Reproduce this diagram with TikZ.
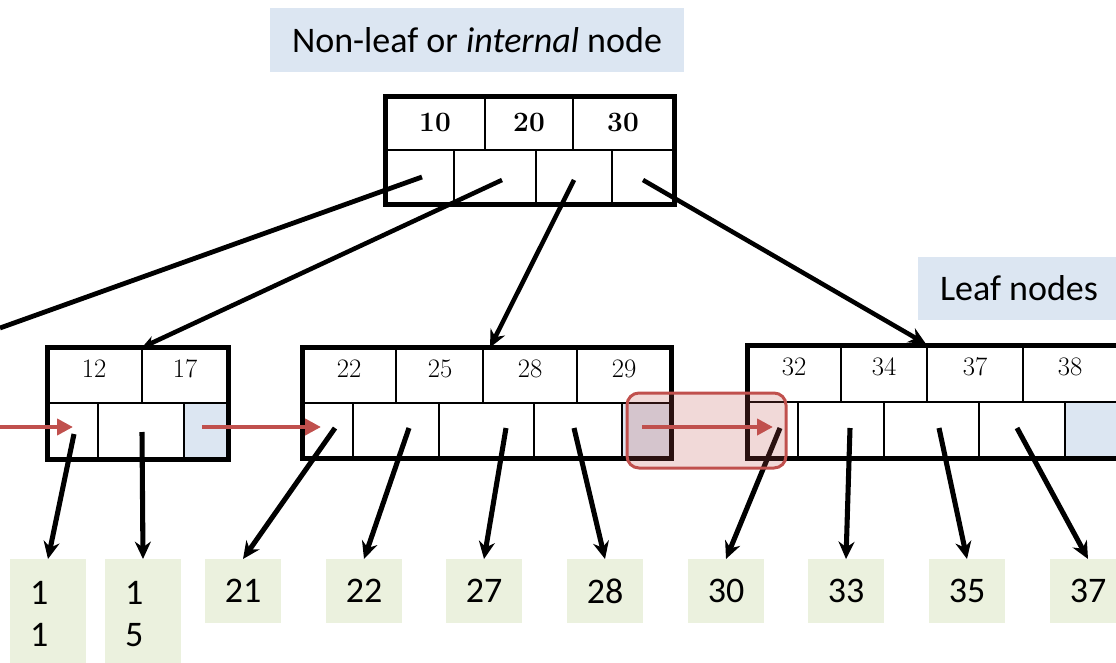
\documentclass[tikz,border=0pt]{standalone}
\usepackage{fontspec}
\newfontfamily\carlito{Carlito}
\usetikzlibrary{arrows.meta}
\definecolor{datagreen}{HTML}{EBF1DE}
\definecolor{tagblue}{HTML}{DCE6F2}
\definecolor{linkred}{HTML}{C0504D}
\tikzset{
 nodeframe/.style={line width=3.75pt},
 cellline/.style={line width=1.5pt},
 ptr/.style={->, line width=3.8pt},
 link/.style={-{Triangle[length=12pt,width=12pt]}, line width=3.4pt, linkred},
 datum/.style={fill=datagreen, minimum width=57pt, minimum height=48pt, inner sep=0pt, anchor=north, font=\carlito\fontsize{27}{32}\selectfont},
 tagbox/.style={fill=tagblue, inner sep=0pt, font=\carlito\fontsize{27}{32}\selectfont},
 leafkey/.style={inner sep=0pt, font=\fontsize{20}{23}\selectfont},
 rootkey/.style={inner sep=0pt, font=\bfseries\fontsize{21}{24}\selectfont},
}
\begin{document}
\begin{tikzpicture}[>={Stealth[length=13pt,width=12pt]}, x=0.75pt, y=-0.75pt]
 \useasboundingbox (0,0) rectangle (1116,663);
 \node[tagbox, minimum width=310.5pt, minimum height=48pt] (title) at (477,40) {Non-leaf or \textit{internal} node};
 \node[tagbox, minimum width=151.5pt, minimum height=47.25pt] (leaftag) at (1019,288.5) {Leaf nodes};

 % root node
 \draw[cellline] (385,150) -- (674,150);
 \foreach \x in {485,573} \draw[cellline] (\x,96.5) -- (\x,150);
 \foreach \x in {454,536,612} \draw[cellline] (\x,150) -- (\x,204.5);
 \draw[nodeframe] (385,96.5) rectangle (674,204.5);
 \foreach \x/\k in {435/10,529/20,623/30} \node[rootkey] (k\k) at (\x,122) {\k};

 % leaf nodes
 \fill[tagblue] (184,403) rectangle (228.5,459.5);
 \draw[cellline] (47.5,403) -- (228.5,403) (142,347.5) -- (142,403);
 \foreach \x in {98,184} \draw[cellline] (\x,403) -- (\x,459.5);
 \draw[nodeframe] (47.5,347.5) rectangle (228.5,459.5);
 \foreach \x/\k in {94/12,185/17} \node[leafkey] (k\k) at (\x,369) {\k};

 \fill[tagblue] (622,403) rectangle (671.5,458);
 \draw[cellline] (302.5,403) -- (671.5,403);
 \foreach \x in {396,483,577} \draw[cellline] (\x,347.5) -- (\x,403);
 \foreach \x in {353,439,534,622} \draw[cellline] (\x,403) -- (\x,458);
 \draw[nodeframe] (302.5,347.5) rectangle (671.5,458);
 \foreach \x/\k in {349/22,440/25,530/28,624/29} \node[leafkey] (k\k) at (\x,369) {\k};

 \fill[tagblue] (1065,402) rectangle (1120,458);
 \draw[cellline] (747,402) -- (1120,402);
 \foreach \x in {841,927,1023} \draw[cellline] (\x,345.5) -- (\x,402);
 \foreach \x in {798,884,979,1065} \draw[cellline] (\x,402) -- (\x,458);
 \draw[nodeframe] (747,345.5) rectangle (1120,458);
 \foreach \x/\k in {794/32,884/34,975/37,1070/38} \node[leafkey] (k\k) at (\x,367) {\k};

 % records
 \node[datum, minimum height=82pt, text width=27pt, inner xsep=15pt, align=left] (d11) at (48,559) {1\\1};
 \node[datum, minimum height=82pt, text width=27pt, inner xsep=15pt, align=left] (d15) at (143,559) {1\\5};
 \foreach \x/\k in {243/21,364/22,484/27,605/28,726/30,846/33,967/35,1088/37} \node[datum] (d\k) at (\x,559) {\k};

 % pointers
 \coordinate (rp0) at (422,177);
 \coordinate (rp1) at (502,180);
 \coordinate (rp2) at (574,180);
 \coordinate (rp3) at (643,180);
 \coordinate (offleft) at (0,328);
 \coordinate (leafA) at (142,347.5);
 \coordinate (leafB) at (490,347.5);
 \coordinate (leafC) at (926,344);
 \draw[line width=3.6pt] (rp0) -- (offleft);
 \draw[ptr, line width=3.4pt, >={Stealth[length=10pt,width=9pt]}] (rp1) -- (leafA);
 \draw[ptr, line width=3.4pt] (rp2) -- (leafB);
 \draw[ptr, line width=3.4pt] (rp3) -- (leafC);

 \coordinate (p11) at (74,434);
 \coordinate (p15) at (142,432);
 \coordinate (p21) at (335,428);
 \coordinate (p22) at (409,428);
 \coordinate (p27) at (506,428);
 \coordinate (p28) at (574,428);
 \coordinate (p30) at (780,428);
 \coordinate (p33) at (850,428);
 \coordinate (p35) at (939,428);
 \coordinate (p37) at (1017,428);
 \foreach \k in {11,15,21,22,27,28,30,33,35,37} \draw[ptr] (p\k) -- (d\k.north);

 % sibling links
 \draw[linkred, line width=2.25pt, fill=linkred, fill opacity=0.22, rounded corners=9pt] (627,393) rectangle (786,468);
 \coordinate (in0) at (0,427);
 \coordinate (inA) at (73,427);
 \coordinate (outA) at (202,427);
 \coordinate (inB) at (321,427);
 \coordinate (outB) at (642,427);
 \coordinate (inC) at (773,427);
 \draw[link] (in0) -- (inA);
 \draw[link] (outA) -- (inB);
 \draw[link] (outB) -- (inC);
\end{tikzpicture}
\end{document}
